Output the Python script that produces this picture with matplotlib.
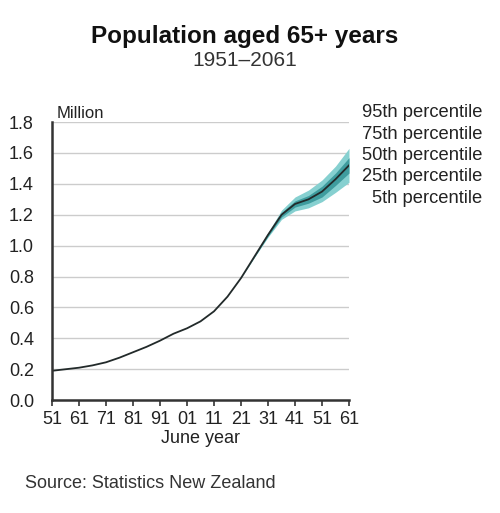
import matplotlib
matplotlib.use("Agg")
import matplotlib.pyplot as plt

plt.rcParams['font.family'] = ['Liberation Sans', 'DejaVu Sans']

# median (50th percentile), million
years = [1951, 1956, 1961, 1966, 1971, 1976, 1981, 1986, 1991, 1996, 2001, 2006,
         2011, 2016, 2021, 2026, 2031, 2036, 2041, 2046, 2051, 2056, 2061]
median = [0.19, 0.20, 0.21, 0.225, 0.245, 0.275, 0.31, 0.345, 0.385, 0.43, 0.465, 0.51,
          0.575, 0.67, 0.79, 0.93, 1.07, 1.20, 1.27, 1.30, 1.35, 1.43, 1.52]

# projection bands
proj_years = [2021, 2026, 2031, 2036, 2041, 2046, 2051, 2056, 2061]
p5 = [0.79, 0.925, 1.055, 1.17, 1.225, 1.245, 1.285, 1.345, 1.41]
p25 = [0.79, 0.928, 1.062, 1.185, 1.25, 1.275, 1.315, 1.39, 1.47]
p75 = [0.79, 0.932, 1.078, 1.215, 1.29, 1.325, 1.385, 1.47, 1.57]
p95 = [0.79, 0.935, 1.085, 1.23, 1.315, 1.36, 1.425, 1.515, 1.63]

xticks = [1951, 1961, 1971, 1981, 1991, 2001, 2011, 2021, 2031, 2041, 2051, 2061]
xlabels = ['51', '61', '71', '81', '91', '01', '11', '21', '31', '41', '51', '61']
yticks = [0.0, 0.2, 0.4, 0.6, 0.8, 1.0, 1.2, 1.4, 1.6, 1.8]

labels = ['95th percentile', '75th percentile', '50th percentile',
          '25th percentile', '5th percentile']

fig = plt.figure(figsize=(5, 5.13), dpi=100)
ax = fig.add_axes([0.104, 0.22, 0.594, 0.542])

ax.fill_between(proj_years, p5, p95, color='#86d0d0', lw=0)
ax.fill_between(proj_years, p25, p75, color='#3f9c9e', lw=0)
ax.plot(years, median, color='#222a2a', lw=1.3)

ax.set_xlim(1951, 2061)
ax.set_ylim(0, 1.8)
ax.set_xticks(xticks)
ax.set_xticklabels(xlabels, fontsize=13, color='#222222')
ax.set_yticks(yticks)
ax.set_yticklabels(['%.1f' % v for v in yticks], fontsize=13, color='#222222')
ax.tick_params(axis='y', length=0, pad=13)
ax.tick_params(axis='x', length=4, width=1.2, color='#333333', pad=4)
ax.grid(axis='y', color='#cccccc', lw=1)
ax.set_axisbelow(True)
for s in ['top', 'right']:
    ax.spines[s].set_visible(False)
for s in ['left', 'bottom']:
    ax.spines[s].set_color('#333333')
    ax.spines[s].set_linewidth(1.8)

ax.set_xlabel('June year', fontsize=13, labelpad=1, color='#222222')
ax.text(0.017, 1.005, 'Million', transform=ax.transAxes, fontsize=12,
        va='bottom', color='#222222')

fig.text(0.49, 0.928, 'Population aged 65+ years', ha='center', va='center',
         fontsize=17.5, fontweight='bold', color='#111111')
fig.text(0.49, 0.882, '1951\u20132061', ha='center', va='center',
         fontsize=15, color='#333333')

for i, lab in enumerate(labels):
    fig.text(0.964, 0.78 - i * 0.0415, lab, ha='right', va='center', fontsize=13.2,
             color='#222222')

fig.text(0.05, 0.057, 'Source: Statistics New Zealand', fontsize=13,
         color='#333333', va='center')

fig.savefig('out.png', dpi=100)
